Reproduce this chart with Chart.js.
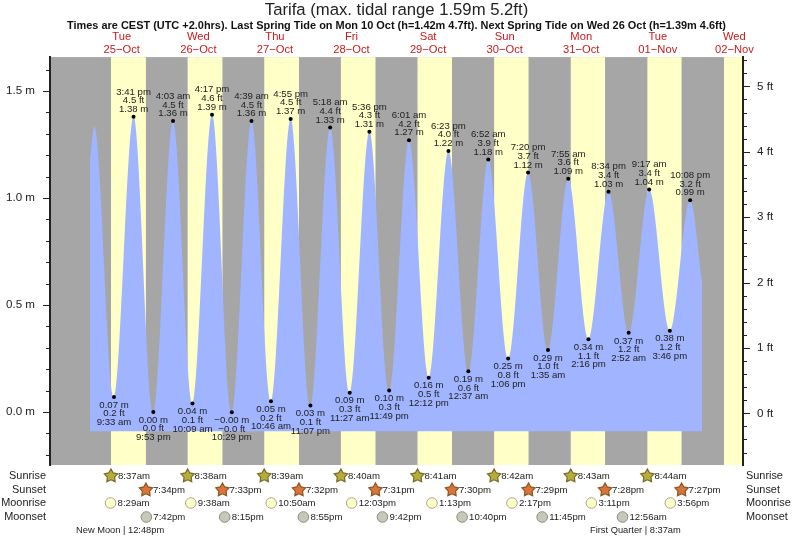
<!DOCTYPE html>
<html>
<head>
<meta charset="utf-8">
<title>Tarifa tides</title>
<script src="https://cdn.jsdelivr.net/npm/chart.js@4"></script>
<style>
  html, body { margin: 0; padding: 0; background: #fff; }
  canvas { display: block; }
</style>
</head>
<body>
<canvas id="tideChart" width="793" height="539"></canvas>
<script>
// day 0 is 25 Oct
const dayNames = ['Tue', 'Wed', 'Thu', 'Fri', 'Sat', 'Sun', 'Mon', 'Tue', 'Wed'];
const dayDates = ['25−Oct', '26−Oct', '27−Oct', '28−Oct', '29−Oct', '30−Oct', '31−Oct', '01−Nov', '02−Nov'];

// tide turning points, the first two and the last one have no label in the picture
const tideDays = [0, 0, 0, 0, 0, 1, 1, 1, 1, 2, 2, 2, 2, 3, 3, 3, 3, 4, 4, 4, 5, 5, 5, 5, 6, 6, 6, 6, 7, 7, 7, 7, 8];
const tideClock = ['2:02 am', '3:24 am', '9:33 am', '3:41 pm', '9:53 pm',
    '4:03 am', '10:09 am', '4:17 pm', '10:29 pm',
    '4:39 am', '10:46 am', '4:55 pm', '11:07 pm',
    '5:18 am', '11:27 am', '5:36 pm', '11:49 pm',
    '6:01 am', '12:12 pm', '6:23 pm',
    '12:37 am', '6:52 am', '1:06 pm', '7:20 pm',
    '1:35 am', '7:55 am', '2:16 pm', '8:34 pm',
    '2:52 am', '9:17 am', '3:46 pm', '10:08 pm', '1:54 am'];
const tideMeters = [1.18, 1.335, 0.07, 1.38, 0.00,
    1.36, 0.04, 1.39, -0.001,
    1.36, 0.05, 1.37, 0.03,
    1.33, 0.09, 1.31, 0.10,
    1.27, 0.16, 1.22,
    0.19, 1.18, 0.25, 1.12,
    0.29, 1.09, 0.34, 1.03,
    0.37, 1.04, 0.38, 0.99, 0.60];
const tideFeet = [null, null, '0.2', '4.5', '0.0',
    '4.5', '0.1', '4.6', '−0.0',
    '4.5', '0.2', '4.5', '0.1',
    '4.4', '0.3', '4.3', '0.3',
    '4.2', '0.5', '4.0',
    '0.6', '3.9', '0.8', '3.7',
    '1.0', '3.6', '1.1', '3.4',
    '1.2', '3.4', '1.2', '3.2', null];
const tideBase = -0.09;

const sunriseDays = [0, 1, 2, 3, 4, 5, 6, 7];
const sunrise = ['8:37am', '8:38am', '8:39am', '8:40am', '8:41am', '8:42am', '8:43am', '8:44am'];
const sunset = ['7:34pm', '7:33pm', '7:32pm', '7:31pm', '7:30pm', '7:29pm', '7:28pm', '7:27pm'];
const lastSunrise = '8:45am'; // 02 Nov, only the band uses it
const moonriseDays = [0, 1, 2, 3, 4, 5, 6, 7];
const moonrise = ['8:29am', '9:38am', '10:50am', '12:03pm', '1:13pm', '2:17pm', '3:11pm', '3:56pm'];
const moonsetDays = [0, 1, 2, 3, 4, 5, 7];
const moonset = ['7:42pm', '8:15pm', '8:55pm', '9:42pm', '10:40pm', '11:45pm', '12:56am'];

const rowNames = ['Sunrise', 'Sunset', 'Moonrise', 'Moonset'];
const rowY = [476, 490, 503, 517];

const textColor = '#222';
const fontName = '"Liberation Sans", Arial, sans-serif';

function toHours(day, clock) {
    const m = clock.match(/(\d+):(\d+)\s*(am|pm)/);
    let h = parseInt(m[1]) % 12;
    if (m[3] == 'pm') h += 12;
    return day * 24 + h + parseInt(m[2]) / 60;
}

function drawText(ctx, text, x, y, size, align, color) {
    ctx.font = size + 'px ' + fontName;
    ctx.textAlign = align || 'center';
    ctx.textBaseline = 'middle';
    ctx.fillStyle = color || textColor;
    ctx.fillText(text, x, y);
}

function drawStar(ctx, x, y, fill, stroke) {
    ctx.beginPath();
    for (let i = 0; i < 10; i++) {
        const r = i % 2 == 0 ? 7 : 3.8;
        const a = -Math.PI / 2 + i * Math.PI / 5;
        ctx.lineTo(x + r * Math.cos(a), y + r * Math.sin(a));
    }
    ctx.closePath();
    ctx.fillStyle = fill;
    ctx.strokeStyle = stroke;
    ctx.lineWidth = 1.2;
    ctx.fill();
    ctx.stroke();
}

function drawMoon(ctx, x, y, fill, stroke) {
    ctx.beginPath();
    ctx.arc(x, y, 5.3, 0, Math.PI * 2);
    ctx.fillStyle = fill;
    ctx.strokeStyle = stroke;
    ctx.lineWidth = 1;
    ctx.fill();
    ctx.stroke();
}

// day and night bands behind the tide
const bandPlugin = {
    id: 'bands',
    beforeDatasetsDraw(chart) {
        const { ctx, chartArea: area, scales: { x } } = chart;
        ctx.save();
        ctx.fillStyle = '#a6a6a6';
        ctx.fillRect(area.left, area.top, area.width, area.height);
        ctx.fillStyle = '#ffffc8';
        sunriseDays.forEach(function (d, i) {
            const x1 = x.getPixelForValue(toHours(d, sunrise[i]));
            const x2 = x.getPixelForValue(toHours(d, sunset[i]));
            ctx.fillRect(x1, area.top, x2 - x1, area.height);
        });
        const lastX = x.getPixelForValue(toHours(8, lastSunrise));
        ctx.fillRect(lastX, area.top, area.right - lastX, area.height);
        ctx.restore();
    }
};

// axis ticks, tide labels and the rows below the plot
const notePlugin = {
    id: 'notes',
    afterDraw(chart) {
        const { ctx, chartArea: area, scales: { x, y, yFeet } } = chart;
        ctx.save();

        ctx.strokeStyle = textColor;
        ctx.lineWidth = 1;
        ctx.beginPath();
        y.ticks.forEach(function (t) {
            const py = Math.round(y.getPixelForValue(t.value)) + 0.5;
            const major = Math.round(t.value * 10) % 5 == 0;
            ctx.moveTo(area.left, py);
            ctx.lineTo(area.left - (major ? 7 : 4), py);
        });
        yFeet.ticks.forEach(function (t) {
            const py = Math.round(yFeet.getPixelForValue(t.value)) + 0.5;
            const major = Math.round(t.value * 5) % 5 == 0;
            ctx.moveTo(area.right, py);
            ctx.lineTo(area.right + (major ? 7 : 4), py);
        });
        ctx.stroke();

        const lineGap = 8.7;
        chart.getDatasetMeta(0).data.forEach(function (pt, i) {
            if (tideFeet[i] == null) return;
            const meters = tideMeters[i].toFixed(2).replace('-', '−') + ' m';
            const feet = tideFeet[i] + ' ft';
            if (tideMeters[i] > tideMeters[i - 1]) {
                drawText(ctx, tideClock[i], pt.x, pt.y - 7.5 - lineGap * 2, 9.6);
                drawText(ctx, feet, pt.x, pt.y - 7.5 - lineGap, 9.6);
                drawText(ctx, meters, pt.x, pt.y - 7.5, 9.6);
            } else {
                drawText(ctx, meters, pt.x, pt.y + 8, 9.6);
                drawText(ctx, feet, pt.x, pt.y + 8 + lineGap, 9.6);
                drawText(ctx, tideClock[i], pt.x, pt.y + 8 + lineGap * 2, 9.6);
            }
        });

        rowNames.forEach(function (name, i) {
            drawText(ctx, name, 46, rowY[i], 10.9, 'right');
            drawText(ctx, name, 746, rowY[i], 10.9, 'left');
        });
        sunriseDays.forEach(function (d, i) {
            const px = x.getPixelForValue(toHours(d, sunrise[i]));
            drawStar(ctx, px, rowY[0], '#b5ae3e', '#7d6a22');
            drawText(ctx, sunrise[i], px + 7, rowY[0], 9.6, 'left');
        });
        sunriseDays.forEach(function (d, i) {
            const px = x.getPixelForValue(toHours(d, sunset[i]));
            drawStar(ctx, px, rowY[1], '#d9743a', '#8c5522');
            drawText(ctx, sunset[i], px + 7, rowY[1], 9.6, 'left');
        });
        moonriseDays.forEach(function (d, i) {
            const px = x.getPixelForValue(toHours(d, moonrise[i]));
            drawMoon(ctx, px, rowY[2], '#ffffc8', '#a8a890');
            drawText(ctx, moonrise[i], px + 7, rowY[2], 9.6, 'left');
        });
        moonsetDays.forEach(function (d, i) {
            const px = x.getPixelForValue(toHours(d, moonset[i]));
            drawMoon(ctx, px, rowY[3], '#c8c8b8', '#8f8f80');
            drawText(ctx, moonset[i], px + 7, rowY[3], 9.6, 'left');
        });

        drawText(ctx, 'New Moon | 12:48pm', 76, 530.5, 9.3, 'left');
        drawText(ctx, 'First Quarter | 8:37am', 590, 530.5, 9.3, 'left');
        ctx.restore();
    }
};

const tidePoints = tideMeters.map(function (m, i) {
    return { x: toHours(tideDays[i], tideClock[i]), y: m };
});

new Chart(document.getElementById('tideChart'), {
    type: 'line',
    plugins: [bandPlugin, notePlugin],
    data: {
        datasets: [{
            data: tidePoints,
            yAxisID: 'y',
            borderWidth: 0,
            borderColor: '#a0b4ff',
            backgroundColor: '#a0b4ff',
            fill: { value: tideBase },
            cubicInterpolationMode: 'monotone',
            pointRadius: function (c) { return tideFeet[c.dataIndex] == null ? 0 : 2; },
            pointBackgroundColor: '#000',
            pointBorderWidth: 0
        }]
    },
    options: {
        responsive: false,
        animation: false,
        events: [],
        layout: { padding: { top: 0, bottom: 74, left: 0, right: 0 } },
        plugins: {
            legend: { display: false },
            tooltip: { enabled: false },
            title: {
                display: true,
                text: 'Tarifa (max. tidal range 1.59m 5.2ft)',
                color: textColor,
                font: { family: fontName, size: 16.7, weight: 'normal', lineHeight: 1.2 },
                padding: { top: 0, bottom: 0 }
            },
            subtitle: {
                display: true,
                text: 'Times are CEST (UTC +2.0hrs). Last Spring Tide on Mon 10 Oct (h=1.42m 4.7ft). Next Spring Tide on Wed 26 Oct (h=1.39m 4.6ft)',
                color: '#111',
                font: { family: fontName, size: 10.95, weight: 'bold', lineHeight: 1 },
                padding: 0
            }
        },
        scales: {
            x: {
                type: 'linear',
                position: 'top',
                min: -10.5,
                max: 206.7,
                grid: { display: false, drawTicks: false },
                border: { display: false },
                afterBuildTicks: function (scale) {
                    scale.ticks = dayNames.map(function (n, i) { return { value: i * 24 + 12 }; });
                },
                afterFit: function (scale) { scale.height = 26.1; },
                ticks: {
                    autoSkip: false,
                    maxRotation: 0,
                    minRotation: 0,
                    padding: 1.5,
                    color: '#cc1a1a',
                    font: { family: fontName, size: 11.2, lineHeight: 1.1 },
                    callback: function (value, i) { return [dayNames[i], dayDates[i]]; }
                }
            },
            y: {
                type: 'linear',
                position: 'left',
                min: -0.2477,
                max: 1.659,
                grid: { drawOnChartArea: false, drawTicks: false },
                border: { color: '#222', width: 2, z: 1 },
                afterFit: function (scale) { scale.width = 50; },
                ticks: {
                    stepSize: 0.1,
                    includeBounds: false,
                    autoSkip: false,
                    padding: 15,
                    color: textColor,
                    font: { family: fontName, size: 11.6 },
                    callback: function (v) {
                        return Math.round(v * 10) % 5 == 0 ? v.toFixed(1) + ' m' : '';
                    }
                }
            },
            yFeet: {
                type: 'linear',
                position: 'right',
                min: -0.79,
                max: 5.448,
                grid: { drawOnChartArea: false, drawTicks: false },
                border: { color: '#222', width: 2, z: 1 },
                afterFit: function (scale) { scale.width = 50; },
                ticks: {
                    stepSize: 0.2,
                    includeBounds: false,
                    autoSkip: false,
                    padding: 14,
                    color: textColor,
                    font: { family: fontName, size: 11.6 },
                    callback: function (v) {
                        return Math.round(v * 5) % 5 == 0 ? Math.round(v) + ' ft' : '';
                    }
                }
            }
        }
    }
});
</script>
</body>
</html>
